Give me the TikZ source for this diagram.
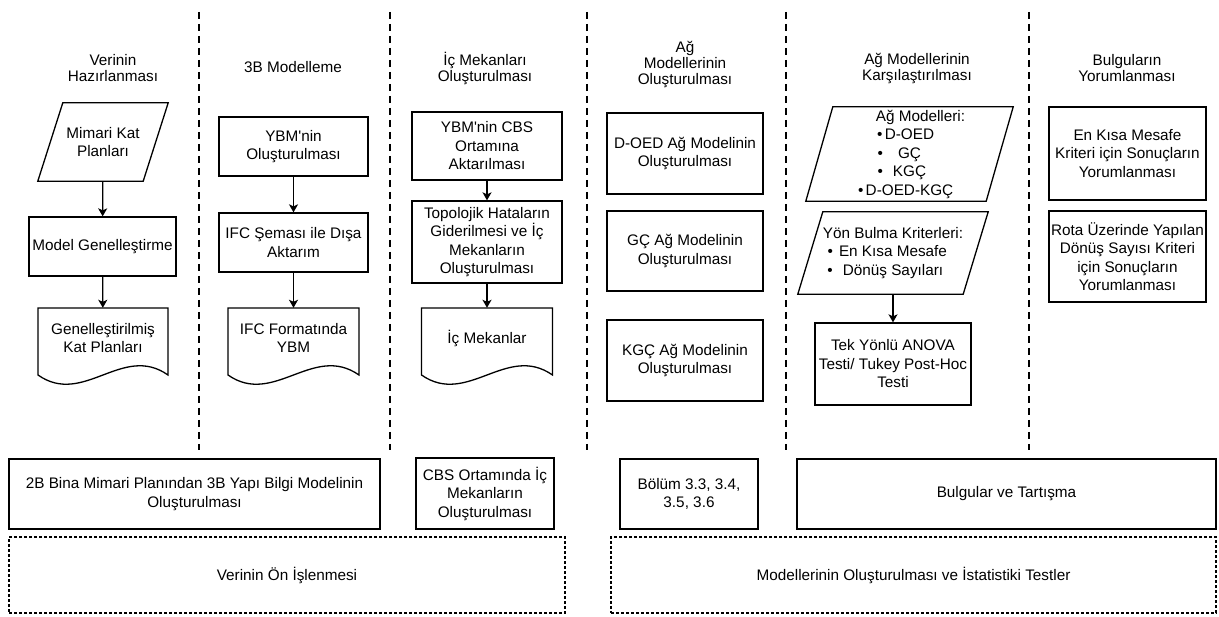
\documentclass[tikz,border=0pt]{standalone}
\usepackage{fontspec}
\setmainfont{Liberation Sans}
\usetikzlibrary{arrows.meta}
\newcommand{\paranode}[7]{%
  \node[txt,minimum width=#4,minimum height=#5] (#1) at (#2,#3) {#7};
  \draw[box] (#1.south west) -- ([xshift=-#6pt]#1.south east) -- (#1.north east) -- ([xshift=#6pt]#1.north west) -- cycle;}
\newcommand{\docnode}[4]{%
  \node[txt,minimum width=#3,minimum height=60] (#1) at ({#2+#3/2},338) {#4};
  \draw[box] (#2,375) -- (#2,308) -- ({#2+#3},308) -- ({#2+#3},375)
    .. controls ({#2+0.65*#3},343) and ({#2+0.35*#3},407) .. (#2,375) -- cycle;}
\newcommand{\blt}[1]{\llap{\textbullet\hspace{#1pt}}}

\begin{document}
\begin{tikzpicture}[x=1pt,y=-1pt,>={Stealth[length=8pt,width=9pt,inset=2pt]},
  txt/.style={align=center,inner sep=0pt,font=\fontsize{15.3}{18.5}\selectfont},
  box/.style={line width=1.3pt},
  blk/.style={txt,draw,line width=1.3pt},
  head/.style={align=center,inner sep=0pt,font=\fontsize{15.3}{16}\selectfont},
  sep/.style={line width=2.2pt,dash pattern=on 7pt off 5pt},
  grp/.style={txt,draw,line width=1.1pt,dash pattern=on 3pt off 2pt},
  arr/.style={->,line width=1.3pt}]
\useasboundingbox (0,0) rectangle (1219,617);
\foreach \x in {199,390,587,786,1029} \draw[sep] (\x,12) -- (\x,450);
\node[head] (hveri) at (113,68) {Verinin\\Hazırlanması};
\node[head] (hmodel) at (293,67) {3B Modelleme};
\node[head] (hic) at (485,68) {İç Mekanları\\Oluşturulması};
\node[head] (hag) at (685,64) {Ağ\\Modellerinin\\Oluşturulması};
\node[head] (hkars) at (917,68) {Ağ Modellerinin\\Karşılaştırılması};
\node[head] (hbulgu) at (1127,68) {Bulguların\\Yorumlanması};
\paranode{mimari}{103}{142}{130}{78}{25}{Mimari Kat\\Planları}
\node[blk,minimum width=147,minimum height=59] (genel) at (102.5,246.5) {Model Genelleştirme};
\docnode{genkat}{38}{130}{Genelleştirilmiş\\Kat Planları}
\draw[arr] (mimari) -- (genel);
\draw[arr] (genel) -- (genkat);
\node[blk,minimum width=149,minimum height=59] (ybm) at (293.5,146.5) {YBM\textquotesingle nin\\Oluşturulması};
\node[blk,minimum width=149,minimum height=59] (ifc) at (293.5,242.5) {IFC Şeması ile Dışa\\Aktarım};
\docnode{ifcybm}{228}{131}{IFC Formatında\\YBM};
\draw[arr] (ybm) -- (ifc);
\draw[arr] (ifc) -- (ifcybm);
\node[blk,minimum width=150,minimum height=68] (aktar) at (487,146) {YBM\textquotesingle nin CBS\\Ortamına\\Aktarılması};
\node[blk,minimum width=150,minimum height=82] (topo) at (487,242) {Topolojik Hataların\\Giderilmesi ve İç\\Mekanların\\Oluşturulması};
\docnode{icmek}{421.5}{131}{İç Mekanlar}
\draw[arr] (aktar) -- (topo);
\draw[arr] (topo) -- (icmek);
\node[blk,minimum width=156,minimum height=81] (doed) at (685,153.5) {D-OED Ağ Modelinin\\Oluşturulması};
\node[blk,minimum width=156,minimum height=80] (gc) at (685,251) {GÇ Ağ Modelinin\\Oluşturulması};
\node[blk,minimum width=156,minimum height=81] (kgc) at (685,360.5) {KGÇ Ağ Modelinin\\Oluşturulması};
\paranode{agmod}{909.5}{154}{207}{94}{27}{\hspace*{22pt}Ağ Modelleri:\\\blt{2.3}D-OED\\\blt{15}GÇ\\\blt{10}KGÇ\\\blt{2.3}D-OED-KGÇ}
\paranode{yon}{893}{253}{190}{82}{25}{Yön Bulma Kriterleri:\\\blt{6}En Kısa Mesafe\\\blt{10}Dönüş Sayıları}
\node[blk,minimum width=156,minimum height=82] (anova) at (893,364) {Tek Yönlü ANOVA\\Testi/ Tukey Post-Hoc\\Testi};
\draw[arr] (yon) -- (anova);
\node[blk,minimum width=157,minimum height=93] (kisa) at (1127.5,153.5) {En Kısa Mesafe\\Kriteri için Sonuçların\\Yorumlanması};
\node[blk,minimum width=157,minimum height=91] (rota) at (1127.5,256.5) {Rota Üzerinde Yapılan\\Dönüş Sayısı Kriteri\\için Sonuçların\\Yorumlanması};
\node[blk,minimum width=371,minimum height=70] (bim) at (194.5,494) {2B Bina Mimari Planından 3B Yapı Bilgi Modelinin\\Oluşturulması};
\node[blk,minimum width=138,minimum height=71] (cbs) at (485,493.5) {CBS Ortamında İç\\Mekanların\\Oluşturulması};
\node[blk,minimum width=138,minimum height=70] (bolum) at (689,494) {Bölüm 3.3, 3.4,\\3.5, 3.6};
\node[blk,minimum width=419,minimum height=70] (tartis) at (1006.5,494) {Bulgular ve Tartışma};
\node[grp,minimum width=556,minimum height=76] (onis) at (287,575) {Verinin Ön İşlenmesi};
\node[grp,minimum width=605,minimum height=76] (testler) at (913.5,575) {Modellerinin Oluşturulması ve İstatistiki Testler};
\end{tikzpicture}
\end{document}
